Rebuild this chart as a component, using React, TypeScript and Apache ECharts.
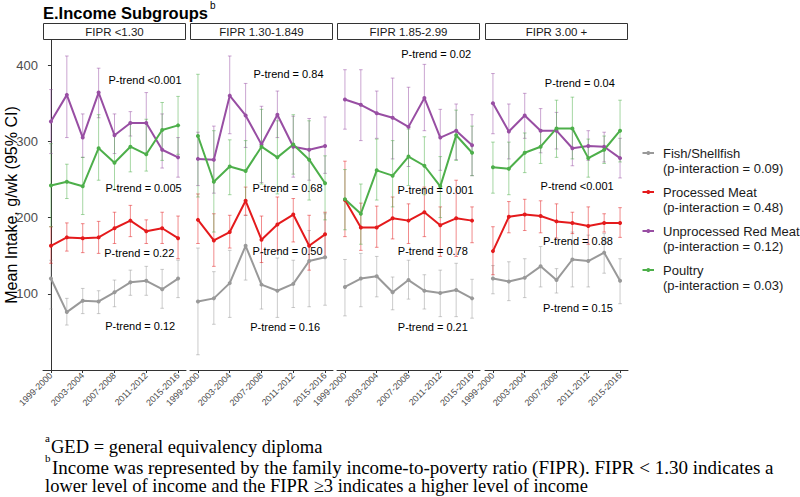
import React, { useEffect, useRef } from "react";
import * as echarts from "echarts";

const categories = [
  "1999-2000", "2001-2002", "2003-2004", "2005-2006", "2007-2008",
  "2009-2010", "2011-2012", "2013-2014", "2015-2016",
];
const panels = ["FIPR <1.30", "FIPR 1.30-1.849", "FIPR 1.85-2.99", "FIPR 3.00 +"];
const yTicks = [100, 200, 300, 400];

const foodNames = ["Fish/Shellfish", "Processed Meat", "Unprocessed Red Meat", "Poultry"];
const pInteraction = ["(p-interaction = 0.09)", "(p-interaction = 0.48)", "(p-interaction = 0.12)", "(p-interaction = 0.03)"];

// Fish/Shellfish, one row per income panel
const fishMean = [
  [120, 76, 91, 90, 102, 115, 117, 106, 120],
  [90, 94, 114, 163, 112, 104, 113, 143, 148],
  [109, 120, 123, 102, 118, 104, 101, 105, 94],
  [120, 116, 121, 136, 118, 145, 143, 154, 117],
];
const fishLow = [
  [80, 59, 74, 74, 83, 98, 98, 81, 95],
  [20, 60, 69, 118, 80, 69, 82, 83, 85],
  [71, 83, 96, 79, 93, 80, 70, 70, 68],
  [100, 91, 95, 109, 101, 109, 109, 127, 87],
];
const fishHigh = [
  [144, 94, 107, 104, 118, 131, 136, 132, 144],
  [160, 129, 157, 203, 153, 147, 144, 183, 205],
  [145, 153, 149, 122, 144, 125, 131, 140, 119],
  [137, 142, 146, 162, 133, 181, 177, 179, 146],
];

// Processed meat
const procMean = [
  [163, 174, 173, 174, 186, 196, 182, 186, 173],
  [197, 170, 181, 222, 171, 191, 204, 163, 178],
  [223, 187, 187, 199, 196, 207, 190, 199, 196],
  [156, 201, 204, 202, 195, 193, 189, 193, 193],
];
const procLow = [
  [140, 156, 154, 153, 166, 175, 166, 166, 146],
  [166, 136, 160, 203, 141, 157, 168, 131, 148],
  [175, 157, 161, 172, 166, 175, 149, 149, 167],
  [125, 180, 183, 180, 173, 179, 165, 181, 174],
];
const procHigh = [
  [188, 193, 192, 195, 207, 216, 197, 207, 202],
  [231, 205, 203, 240, 202, 227, 225, 203, 207],
  [274, 219, 215, 227, 218, 240, 214, 249, 214],
  [188, 221, 224, 222, 218, 207, 214, 205, 213],
];

// Unprocessed red meat
const redMean = [
  [326, 361, 305, 364, 308, 324, 324, 289, 279],
  [277, 276, 360, 334, 296, 335, 293, 289, 294],
  [355, 348, 337, 331, 319, 357, 305, 314, 295],
  [350, 313, 334, 314, 314, 291, 294, 293, 278],
];
const redLow = [
  [284, 305, 279, 331, 284, 307, 283, 265, 253],
  [242, 232, 310, 292, 246, 305, 253, 249, 258],
  [316, 301, 304, 277, 267, 314, 262, 276, 255],
  [310, 277, 304, 285, 290, 268, 275, 273, 252],
];
const redHigh = [
  [368, 412, 336, 396, 336, 339, 364, 336, 305],
  [312, 320, 412, 376, 346, 366, 333, 330, 332],
  [394, 394, 366, 383, 371, 401, 342, 349, 335],
  [389, 349, 363, 343, 338, 316, 314, 312, 304],
];

// Poultry
const poulMean = [
  [242, 247, 241, 291, 272, 293, 283, 315, 321],
  [307, 247, 267, 261, 293, 279, 296, 276, 245],
  [224, 205, 262, 255, 280, 268, 241, 308, 285],
  [266, 264, 285, 293, 317, 317, 278, 289, 314],
];
const poulLow = [
  [188, 225, 204, 249, 236, 260, 261, 275, 283],
  [227, 181, 230, 222, 244, 231, 257, 223, 197],
  [184, 165, 223, 214, 242, 230, 200, 275, 255],
  [232, 230, 259, 271, 279, 277, 253, 271, 273],
];
const poulHigh = [
  [297, 270, 279, 335, 310, 325, 329, 351, 359],
  [388, 314, 302, 301, 342, 327, 335, 327, 281],
  [263, 244, 303, 301, 316, 306, 280, 341, 320],
  [299, 299, 311, 315, 354, 358, 303, 307, 354],
];

// P-trend annotations: [fish, processed, unprocessed, poultry] per panel
const pTrendText = [
  ["P-trend = 0.12", "P-trend = 0.22", "P-trend <0.001", "P-trend = 0.005"],
  ["P-trend = 0.16", "P-trend = 0.50", "P-trend = 0.84", "P-trend = 0.68"],
  ["P-trend = 0.21", "P-trend = 0.78", "P-trend = 0.02", "P-trend = 0.001"],
  ["P-trend = 0.15", "P-trend = 0.88", "P-trend = 0.04", "P-trend <0.001"],
];
const pTrendX = [
  [5.62, 5.56, 5.92, 5.83],
  [5.49, 5.64, 5.7, 5.64],
  [5.53, 5.53, 5.74, 5.7],
  [5.35, 5.35, 5.47, 5.3],
];
const pTrendY = [
  [58, 153, 380, 239],
  [57, 156, 389, 239],
  [56, 156, 415, 236],
  [81, 169, 376, 242],
];

const colors = ["#999999", "#E41A1C", "#984EA3", "#4DAF4A"];
const FONT = "'Liberation Sans', Arial, Helvetica, sans-serif";
const SERIF = "'Liberation Serif', 'Times New Roman', serif";

const gridLefts = [43, 190, 337, 485];
const GRID_W = 143;
const GRID_TOP = 40;
const GRID_H = 330;

export default function App() {
  const ref = useRef<HTMLDivElement>(null);

  useEffect(() => {
    if (!ref.current) return;
    const chart = echarts.init(ref.current, undefined, { renderer: "svg" });

    const means = [fishMean, procMean, redMean, poulMean];
    const lows = [fishLow, procLow, redLow, poulLow];
    const highs = [fishHigh, procHigh, redHigh, poulHigh];

    const grids: any[] = [];
    const xAxes: any[] = [];
    const yAxes: any[] = [];
    const series: any[] = [];
    const graphics: any[] = [];

    panels.forEach((pname, p) => {
      grids.push({ left: gridLefts[p], top: GRID_TOP, width: GRID_W, height: GRID_H, containLabel: false });
      xAxes.push({
        type: "category",
        gridIndex: p,
        data: categories,
        boundaryGap: true,
        axisLine: { show: true, lineStyle: { color: "#333333", width: 1 } },
        axisTick: { show: true, interval: 1, alignWithLabel: true, length: 3, lineStyle: { color: "#333333" } },
        axisLabel: { interval: 1, rotate: 45, fontSize: 9, color: "#4d4d4d", margin: 4, fontFamily: FONT },
        splitLine: { show: false },
      });
      yAxes.push({
        type: "value",
        gridIndex: p,
        min: 0,
        max: 433,
        interval: 100,
        show: p === 0,
        axisLine: { show: p === 0, lineStyle: { color: "#333333", width: 1 } },
        axisTick: { show: p === 0, length: 3, lineStyle: { color: "#333333" }, customValues: yTicks },
        axisLabel: { show: p === 0, fontSize: 13, color: "#4d4d4d", margin: 5, fontFamily: FONT, customValues: yTicks },
        splitLine: { show: false },
      });

      // strip
      graphics.push({
        type: "rect",
        shape: { x: gridLefts[p] + 0.5, y: 23.5, width: GRID_W - 1, height: 16 },
        style: { fill: "#ffffff", stroke: "#333333", lineWidth: 1 },
      });
      graphics.push({
        type: "text",
        x: gridLefts[p] + GRID_W / 2,
        y: 31.5,
        style: { text: pname, fill: "#1a1a1a", font: `11.5px ${FONT}`, textAlign: "center", textVerticalAlign: "middle" },
      });
    });

    // hidden value x-axes for annotations
    panels.forEach((_, p) => {
      xAxes.push({ type: "value", gridIndex: p, min: -0.5, max: 8.5, show: false });
    });

    panels.forEach((_, p) => {
      foodNames.forEach((food, f) => {
        const color = colors[f];
        const ebData = categories.map((_, i) => [i, lows[f][p][i], highs[f][p][i]]);
        series.push({
          type: "custom",
          name: food + " CI",
          xAxisIndex: p,
          yAxisIndex: p,
          data: ebData,
          encode: { x: 0, y: [1, 2] },
          z: 2,
          silent: true,
          renderItem: (params: any, api: any) => {
            const x = api.value(0);
            const lo = api.coord([x, api.value(1)]);
            const hi = api.coord([x, api.value(2)]);
            const c = 1.8;
            const st = { stroke: color, lineWidth: 1, opacity: 0.5 };
            return {
              type: "group",
              children: [
                { type: "line", shape: { x1: lo[0], y1: lo[1], x2: hi[0], y2: hi[1] }, style: st },
                { type: "line", shape: { x1: lo[0] - c, y1: lo[1], x2: lo[0] + c, y2: lo[1] }, style: st },
                { type: "line", shape: { x1: hi[0] - c, y1: hi[1], x2: hi[0] + c, y2: hi[1] }, style: st },
              ],
            };
          },
        });
        series.push({
          type: "line",
          name: food,
          xAxisIndex: p,
          yAxisIndex: p,
          data: means[f][p],
          symbol: "circle",
          symbolSize: 4,
          showSymbol: true,
          lineStyle: { color, width: 2 },
          itemStyle: { color },
          z: 3,
          silent: true,
        });
      });

      // annotation texts
      const annData = pTrendText[p].map((_, k) => [pTrendX[p][k], pTrendY[p][k]]);
      series.push({
        type: "custom",
        name: "ptrend" + p,
        xAxisIndex: 4 + p,
        yAxisIndex: p,
        data: annData,
        z: 5,
        silent: true,
        renderItem: (params: any, api: any) => {
          const pt = api.coord([api.value(0), api.value(1)]);
          return {
            type: "text",
            x: pt[0],
            y: pt[1],
            style: {
              text: pTrendText[p][params.dataIndex],
              fill: "#000000",
              font: `11px ${FONT}`,
              textAlign: "center",
              textVerticalAlign: "middle",
            },
          };
        },
      });
    });

    // title
    graphics.push({
      type: "text",
      x: 43,
      y: 4,
      style: { text: "E.Income Subgroups", fill: "#000000", font: `bold 16.5px ${FONT}`, textVerticalAlign: "top" },
    });
    graphics.push({
      type: "text",
      x: 210,
      y: 0,
      style: { text: "b", fill: "#000000", font: `10px ${FONT}`, textVerticalAlign: "top" },
    });
    // y axis title
    graphics.push({
      type: "text",
      x: 11,
      y: 205,
      rotation: Math.PI / 2,
      style: {
        text: "Mean Intake, g/wk (95% CI)",
        fill: "#000000",
        font: `16px ${FONT}`,
        textAlign: "center",
        textVerticalAlign: "middle",
      },
    });

    // legend
    const legY = [153, 192, 231, 270];
    foodNames.forEach((food, f) => {
      graphics.push({
        type: "line",
        shape: { x1: 642.5, y1: legY[f], x2: 654, y2: legY[f] },
        style: { stroke: colors[f], lineWidth: 2 },
      });
      graphics.push({
        type: "circle",
        shape: { cx: 648.3, cy: legY[f], r: 2 },
        style: { fill: colors[f] },
      });
      graphics.push({
        type: "text",
        x: 663,
        y: legY[f],
        style: { text: food, fill: "#1a1a1a", font: `13px ${FONT}`, textVerticalAlign: "middle" },
      });
      graphics.push({
        type: "text",
        x: 663,
        y: legY[f] + 15,
        style: { text: pInteraction[f], fill: "#1a1a1a", font: `13px ${FONT}`, textVerticalAlign: "middle" },
      });
    });

    // footnotes
    graphics.push({ type: "text", x: 45, y: 438, style: { text: "a", fill: "#000", font: `11px ${SERIF}`, textVerticalAlign: "middle" } });
    graphics.push({ type: "text", x: 51, y: 447, style: { text: "GED = general equivalency diploma", fill: "#000", font: `18.5px ${SERIF}`, textVerticalAlign: "middle" } });
    graphics.push({ type: "text", x: 45, y: 458, style: { text: "b", fill: "#000", font: `11px ${SERIF}`, textVerticalAlign: "middle" } });
    graphics.push({
      type: "text",
      x: 52,
      y: 467,
      style: {
        text: "Income was represented by the family income-to-poverty ratio (FIPR). FIPR < 1.30 indicates a",
        fill: "#000",
        font: `19px ${SERIF}`,
        textVerticalAlign: "middle",
      },
    });
    graphics.push({
      type: "text",
      x: 45,
      y: 486,
      style: {
        text: "lower level of income and the FIPR \u22653 indicates a higher level of income",
        fill: "#000",
        font: `18.5px ${SERIF}`,
        textVerticalAlign: "middle",
      },
    });

    chart.setOption({
      animation: false,
      backgroundColor: "#ffffff",
      textStyle: { fontFamily: FONT },
      grid: grids,
      xAxis: xAxes,
      yAxis: yAxes,
      series,
      graphic: graphics,
    });

    return () => chart.dispose();
  }, []);

  return (
    <div
      ref={ref}
      style={{ position: "absolute", left: 0, top: 0, width: 800, height: 497, background: "#fff" }}
    />
  );
}
